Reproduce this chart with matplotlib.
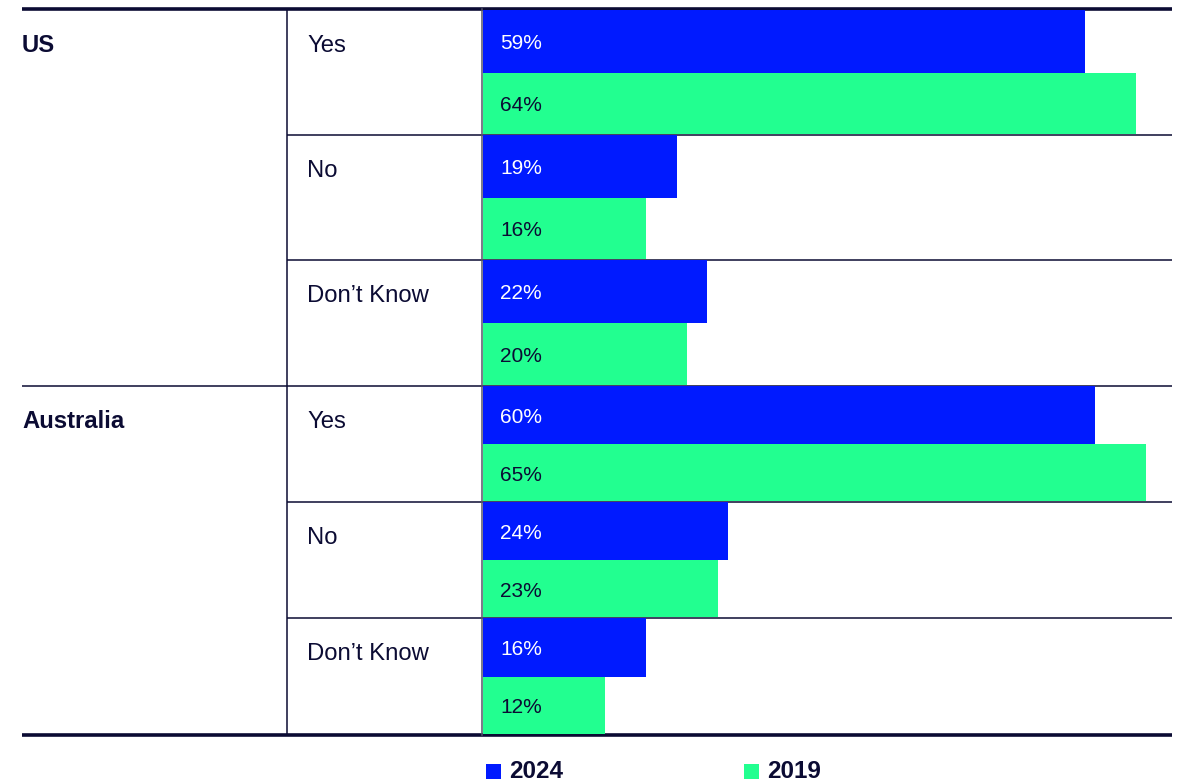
import matplotlib.pyplot as plt

plt.rcParams['font.family'] = ['Liberation Sans', 'DejaVu Sans']

# Survey answers per country, 2024 vs 2019 (%)
countries = ["US", "Australia"]
answers = ["Yes", "No", "Don\u2019t Know"]
share_2024 = [59, 19, 22, 60, 24, 16]
share_2019 = [64, 16, 20, 65, 23, 12]
years = ["2024", "2019"]

blue = "#001AFF"
green = "#22FF90"
ink = "#0B0B33"

W, H = 1178, 783
fig = plt.figure(figsize=(W / 100, H / 100), dpi=100)

# base layer in pixel units for the table grid and labels
base = fig.add_axes([0, 0, 1, 1])
base.set_xlim(0, W)
base.set_ylim(H, 0)
base.axis("off")

left, col1, col2, right = 22, 287, 482, 1172
top, bottom = 9, 735
row_h = [125, 125, 126, 116, 116, 117]
row_top = [top + 1 + sum(row_h[:i]) for i in range(len(row_h))]

# horizontal rules
base.plot([left, right], [top, top], color=ink, lw=2.6, solid_capstyle="butt")
base.plot([left, right], [bottom, bottom], color=ink, lw=2.6, solid_capstyle="butt")
for i, y in enumerate(row_top[1:], start=1):
    x0 = left if i % 3 == 0 else col1
    base.plot([x0, right], [y, y], color=ink, lw=1.1, solid_capstyle="butt")
# vertical rules
base.plot([col1, col1], [top, bottom], color=ink, lw=1.1)
base.plot([col2, col2], [top, bottom], color="#55556A", lw=1.1)

for i, y in enumerate(row_top):
    if i % 3 == 0:
        base.text(left, y + 36, countries[i // 3], fontsize=17.2, fontweight="bold",
                  color=ink, va="center", ha="left")
    base.text(307, y + 36, answers[i % 3], fontsize=17.2, color=ink,
              va="center", ha="left")

# bars in percent units
px_per_pct = 10.2
bx0 = col2 + 1
bax = fig.add_axes([bx0 / W, (H - bottom) / H, (right - bx0) / W, (bottom - top - 1) / H])
bax.set_xlim(0, (right - bx0) / px_per_pct)
bax.set_ylim(bottom - top - 1, 0)
bax.axis("off")

for i in range(len(row_h)):
    y0 = row_top[i] - top - 1
    half = row_h[i] / 2
    for j, (vals, col, tcol) in enumerate([(share_2024, blue, "white"), (share_2019, green, ink)]):
        yb = y0 + j * half
        bax.barh(yb, vals[i], height=half - (1 if j == 1 else 0), align="edge",
                 color=col, linewidth=0)
        bax.annotate(f"{vals[i]}%", xy=(0, yb + half / 2), xytext=(12.5, -1.5),
                     textcoords="offset points", fontsize=15, color=tcol,
                     va="center", ha="left")

# legend
for x, label, col in [(486, years[0], blue), (744, years[1], green)]:
    base.add_patch(plt.Rectangle((x, 764), 15, 15, color=col, lw=0))
    base.text(x + 23, 772, label, fontsize=17.5, fontweight="bold", color=ink,
              va="center", ha="left")

fig.savefig("out.png", dpi=100)
